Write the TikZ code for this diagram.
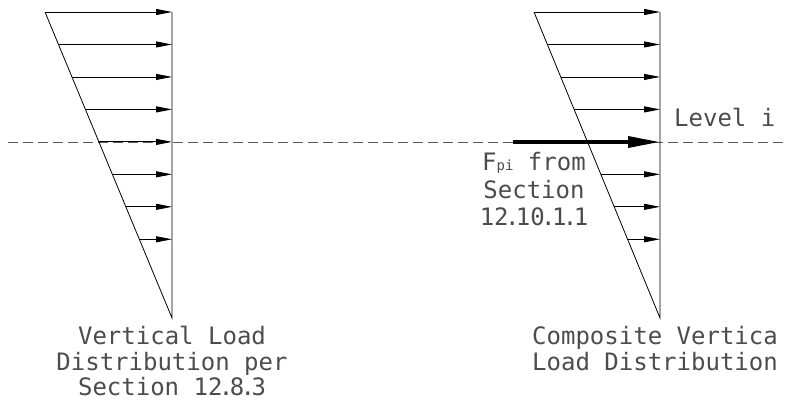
\documentclass[tikz,border=0pt]{standalone}
\usepackage{fontspec}
\setmonofont{DejaVu Sans Mono}
\usetikzlibrary{arrows.meta,calc}
\newcommand\cadpt{\kern-0.15em.\kern-0.15em}
\begin{document}
\begin{tikzpicture}[x=1pt,y=-1pt]
\tikzset{
  edge/.style={line width=0.8pt, black},
  loadarrow/.style={edge, -{Triangle[length=16pt,width=6pt]}},
  fparrow/.style={line width=3.5pt, black, -{Triangle[length=32pt,width=11pt]}},
  levelline/.style={dash pattern=on 10pt off 5pt, line width=0.8pt, black!65},
  lbl/.style={font=\ttfamily\fontsize{24}{27}\selectfont, text=black!70, inner sep=0pt},
}
\useasboundingbox (0,0) rectangle (785,402);
% key points
\coordinate (LT) at (172,12);
\coordinate (LB) at (172,318);
\coordinate (LA) at (45,12);
\coordinate (RT) at (660,12);
\coordinate (RB) at (660,318);
\coordinate (RA) at (534,12);
\coordinate (D1) at (8,142);
\coordinate (D2) at (785,142);
% level line
\draw[levelline] (D1) -- (D2);
% distributions
\draw[edge] (LT) -- (LB) -- (LA);
\draw[edge] (RT) -- (RB) -- (RA);
\foreach \k in {0,...,7} {
  \pgfmathsetmacro\t{0.10611*\k}
  \coordinate (Ls\k) at ($(LA)!\t!(LB)$);
  \draw[loadarrow] (Ls\k) -- (Ls\k -| LT);
}
\foreach \k in {0,1,2,3,5,6,7} {
  \pgfmathsetmacro\t{0.10611*\k}
  \coordinate (Rs\k) at ($(RA)!\t!(RB)$);
  \draw[loadarrow] (Rs\k) -- (Rs\k -| RT);
}
% concentrated force
\coordinate (Fs) at (513,142);
\draw[fparrow] (Fs) -- (Fs -| RT);
% labels
\node[lbl, anchor=base west] (lvl) at (674,126) {Level i};
\node[lbl, anchor=base] (fp1) at (534,170) {F{\fontsize{14}{14}\selectfont pi} from};
\node[lbl, anchor=base] (fp2) at (534,198) {Section};
\node[lbl, anchor=base] (fp3) at (534,225) {12\cadpt10\cadpt1\cadpt1};
\node[lbl, anchor=base] (lc1) at (172,344) {Vertical Load};
\node[lbl, anchor=base] (lc2) at (172,370) {Distribution per};
\node[lbl, anchor=base] (lc3) at (172,395) {Section 12\cadpt8\cadpt3};
\node[lbl, anchor=base] (rc1) at (655,344) {Composite Vertica};
\node[lbl, anchor=base] (rc2) at (655,370) {Load Distribution};
\end{tikzpicture}
\end{document}
